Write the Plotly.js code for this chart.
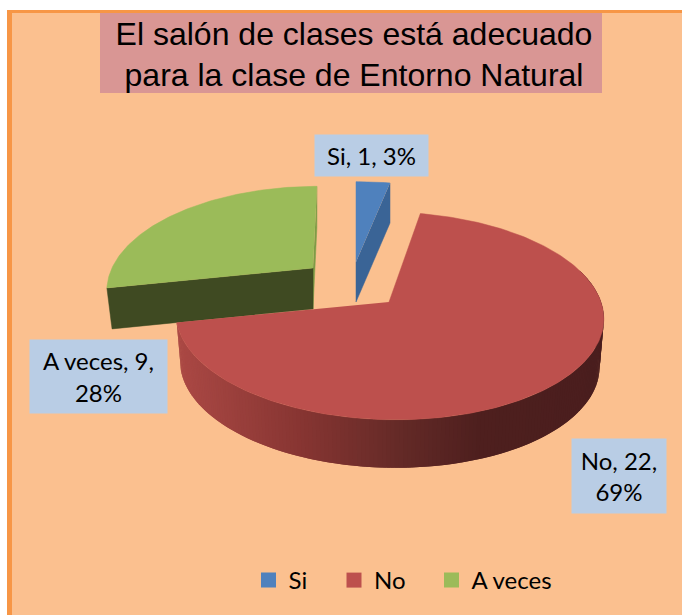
<!DOCTYPE html>
<html>
<head>
<meta charset="utf-8">
<script src="https://cdn.plot.ly/plotly-3.0.1.min.js"></script>
<style>html,body{margin:0;padding:0;background:#fff}</style>
</head>
<body>
<div id="chart" style="width:682px;height:615px"></div>
<script>
const categories = ["Si", "No", "A veces"];
const values = [1, 22, 9];
const percents = ["3%", "69%", "28%"];
const topColors = ["#4F81BD", "#BD504D", "#9BBB59"];
const cutColors = ["#3A6496", "#7F2F2C", "#3F4A22"];
const wallStops = [[180, [170,72,68]], [300, [135,53,50]], [400, [100,42,39]], [480, [78,31,30]], [603, [74,30,30]]];

// Projected-slice geometry for each exploded sector (pixel-like axis units)
const geom = {
  "Si":      {ax: 356, ay: 262, R: 212, H: 98,  k: 0.22, d: 40, skew: 0, taper: 0},
  "No":      {ax: 389, ay: 302, R: 212, H: 102, k: 0.134, d: 48, skew: -6, taper: 0.02},
  "A veces": {ax: 313, ay: 268, R: 201, H: 98,  k: 0.2,  d: 41, skew: 4.8, taper: 0.025}
};

const total = values.reduce((a, b) => a + b, 0);
function pt(g, deg, depth) {
  const t = deg * Math.PI / 180, X = Math.sin(t), Y = Math.cos(t), w = 1 + g.k * Y;
  const x = (g.R * X + g.skew * Y) / w;
  return [g.ax + x * (depth ? 1 - g.taper : 1), g.ay - g.H * Y / w + (depth || 0)];
}
function arc(g, a0, a1, depth) {
  const n = Math.max(2, Math.ceil(Math.abs(a1 - a0) / 1)), out = [];
  for (let i = 0; i <= n; i++) out.push(pt(g, a0 + (a1 - a0) * i / n, depth));
  return out;
}
function poly(points, color, name, width) {
  return {type: "scatter", mode: "lines", x: points.map(p => p[0]), y: points.map(p => p[1]),
    fill: "toself", fillcolor: color, line: {color: color, width: width === undefined ? 0.5 : width},
    showlegend: false, hoverinfo: "skip", name: name};
}
function wallColor(x) {
  let s = wallStops;
  if (x <= s[0][0]) return "rgb(" + s[0][1] + ")";
  for (let i = 1; i < s.length; i++) if (x <= s[i][0]) {
    const f = (x - s[i-1][0]) / (s[i][0] - s[i-1][0]);
    return "rgb(" + s[i][1].map((v, j) => Math.round(s[i-1][1][j] + (v - s[i-1][1][j]) * f)) + ")";
  }
  return "rgb(" + s[s.length-1][1] + ")";
}

// sector angles from the values, clockwise from the top
let acc = 0;
const span = {};
categories.forEach((c, i) => { span[c] = [acc / total * 360, (acc + values[i]) / total * 360]; acc += values[i]; });

const traces = [];
const [s0, s1] = span["Si"], [n0, n1] = span["No"], [a0, a1] = span["A veces"];
const gS = geom["Si"], gN = geom["No"], gA = geom["A veces"];
const apex = (g, d) => [g.ax, g.ay + (d || 0)];

// A veces: cut faces, then top
traces.push(poly([pt(gA, a1), pt(gA, a1, gA.d), apex(gA, gA.d), apex(gA)], "#7F9C47", "A veces"));
traces.push(poly([pt(gA, a0), pt(gA, a0, gA.d), apex(gA, gA.d), apex(gA)], cutColors[2], "A veces"));
traces.push(poly([apex(gA)].concat(arc(gA, a0, a1)), topColors[2], "A veces"));

// Si: side face, then top
traces.push(poly([pt(gS, s1), pt(gS, s1, gS.d), apex(gS, gS.d), apex(gS)], cutColors[0], "Si"));
traces.push(poly([apex(gS)].concat(arc(gS, s0, s1)), topColors[0], "Si"));

// No: shaded outer wall in overlapping strips, then top
const wallFrom = n0 + 60, step = 1;
for (let a = wallFrom; a < n1; a += step) {
  const b = Math.min(a + step * 2, n1);
  const top = arc(gN, a, b), bot = arc(gN, b, a, gN.d);
  const midX = pt(gN, a + step / 2)[0];
  traces.push(poly(top.concat(bot), wallColor(midX), "No", 0));
}
traces.push(poly([apex(gN)].concat(arc(gN, n0, n1)), topColors[1], "No"));

// legend entries, one small legend each so they can sit at their own places
const legendIds = ["legend", "legend2", "legend3"];
categories.forEach((c, i) => traces.push({
  type: "scatter", mode: "markers", x: [null], y: [null], name: c, legend: legendIds[i],
  marker: {symbol: "square", size: 15, color: topColors[i]}, hoverinfo: "skip"
}));

const labelBoxes = [
  {cx: 371.5, cy: 155.5, w: 113, h: 41},
  {cx: 619, cy: 476, w: 94, h: 74},
  {cx: 98.5, cy: 376.5, w: 137, h: 73}
];
const labelText = ["Si, 1, 3%", "No, 22,<br>69%", "A veces, 9,<br>28%"];
const annotations = labelText.map((t, i) => ({
  x: labelBoxes[i].cx, y: labelBoxes[i].cy, xref: "x", yref: "y", showarrow: false,
  width: labelBoxes[i].w, height: labelBoxes[i].h, borderpad: 0, bgcolor: "#B9CDE5",
  text: t, align: "center", valign: "middle",
  font: {family: "Lato, 'Open Sans', sans-serif", size: 24, color: "#000"}
}));

function legendAt(left) {
  return {
    orientation: "h", x: left / 682, xanchor: "left", y: 1 - 580.5 / 615, yanchor: "middle",
    bgcolor: "rgba(0,0,0,0)", itemclick: false, itemdoubleclick: false,
    font: {family: "Lato, 'Open Sans', sans-serif", size: 24, color: "#000"}
  };
}

const layout = {
  width: 682, height: 615, margin: {l: 0, r: 0, t: 0, b: 0, pad: 0},
  paper_bgcolor: "#ffffff", plot_bgcolor: "rgba(0,0,0,0)",
  xaxis: {range: [0, 682], visible: false, fixedrange: true},
  yaxis: {range: [615, 0], visible: false, fixedrange: true},
  title: {
    text: "El salón de clases está adecuado<br>para la clase de Entorno Natural",
    font: {family: "'Liberation Sans', Arial, sans-serif", size: 32, color: "#000"},
    x: 354 / 682, xref: "paper", xanchor: "center", yref: "container", y: 1 - 44.5 / 615, yanchor: "middle"
  },
  shapes: [
    {type: "rect", layer: "below", xref: "x", yref: "y", x0: 7, x1: 682, y0: 10, y1: 615, fillcolor: "#F79646", line: {width: 0}},
    {type: "rect", layer: "below", xref: "x", yref: "y", x0: 12, x1: 682, y0: 13, y1: 615, fillcolor: "#FBC08F", line: {width: 0}},
    {type: "rect", layer: "below", xref: "x", yref: "y", x0: 100, x1: 602, y0: 13, y1: 93, fillcolor: "#D99694", line: {width: 0}}
  ],
  annotations: annotations,
  showlegend: true,
  legend: legendAt(248.5),
  legend2: legendAt(334),
  legend3: legendAt(431.5)
};
Plotly.newPlot("chart", traces, layout, {displayModeBar: false});
</script>
</body>
</html>
